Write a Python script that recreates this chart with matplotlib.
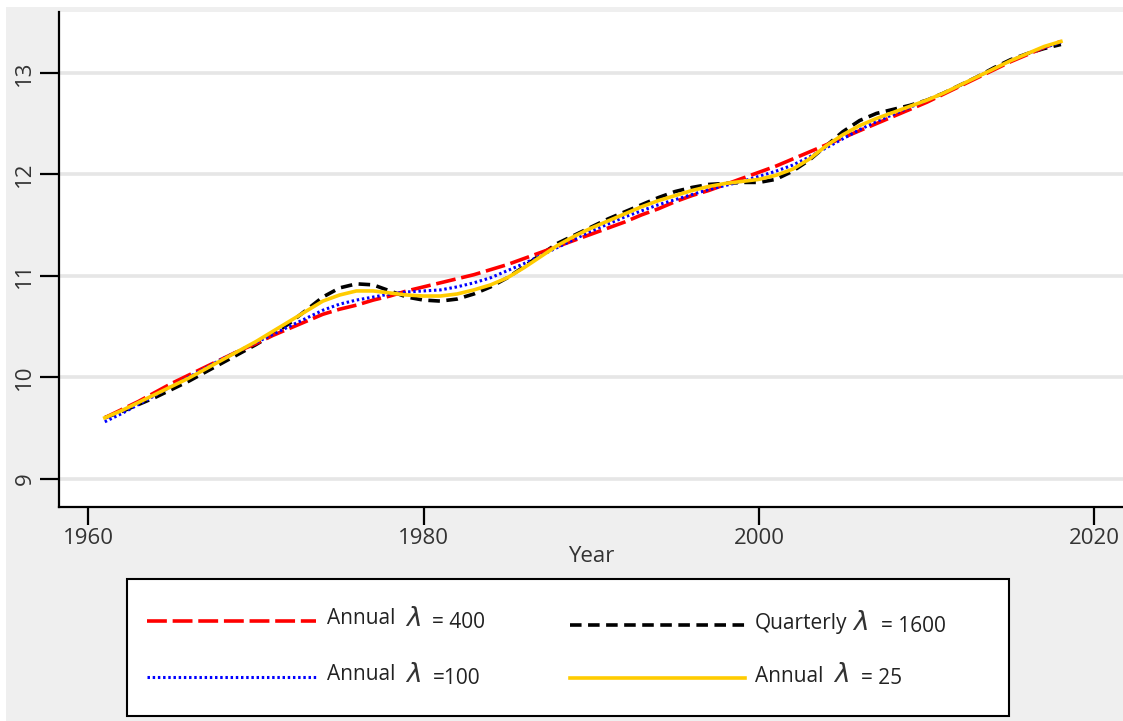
from matplotlib import pyplot as plt
from matplotlib.lines import Line2D
from matplotlib.patches import Rectangle
import numpy as np

plt.rcParams["font.family"] = ["Open Sans", "DejaVu Sans"]

years = np.arange(1961, 2019)

annual_400 = [9.60, 9.68, 9.76, 9.85, 9.94, 10.02, 10.10, 10.18, 10.26, 10.33,
              10.41, 10.48, 10.55, 10.62, 10.67, 10.71, 10.76, 10.80, 10.85, 10.89,
              10.93, 10.97, 11.01, 11.06, 11.11, 11.17, 11.23, 11.29, 11.35, 11.41,
              11.47, 11.53, 11.60, 11.66, 11.73, 11.79, 11.84, 11.90, 11.96, 12.02,
              12.08, 12.15, 12.22, 12.29, 12.36, 12.43, 12.50, 12.57, 12.64, 12.71,
              12.79, 12.87, 12.95, 13.03, 13.11, 13.18, 13.25, 13.31]

annual_100 = [9.56, 9.64, 9.73, 9.82, 9.91, 10.00, 10.09, 10.18, 10.26, 10.34,
              10.42, 10.50, 10.58, 10.66, 10.72, 10.76, 10.79, 10.82, 10.84, 10.85,
              10.86, 10.89, 10.93, 10.98, 11.05, 11.12, 11.20, 11.28, 11.36, 11.44,
              11.51, 11.58, 11.64, 11.70, 11.75, 11.80, 11.85, 11.89, 11.93, 11.98,
              12.03, 12.09, 12.17, 12.26, 12.35, 12.44, 12.52, 12.59, 12.66, 12.73,
              12.80, 12.88, 12.96, 13.04, 13.12, 13.19, 13.25, 13.30]

quarterly_1600 = [9.60, 9.66, 9.73, 9.80, 9.88, 9.96, 10.05, 10.14, 10.23, 10.32,
                  10.42, 10.53, 10.66, 10.79, 10.88, 10.92, 10.91, 10.85, 10.79, 10.76,
                  10.75, 10.77, 10.82, 10.89, 10.98, 11.09, 11.21, 11.32, 11.40, 11.48,
                  11.56, 11.63, 11.70, 11.77, 11.83, 11.87, 11.90, 11.91, 11.92, 11.92,
                  11.95, 12.03, 12.14, 12.28, 12.42, 12.53, 12.60, 12.64, 12.68, 12.73,
                  12.80, 12.88, 12.96, 13.05, 13.13, 13.19, 13.24, 13.28]

annual_25 = [9.60, 9.67, 9.75, 9.83, 9.91, 9.99, 10.08, 10.17, 10.26, 10.35,
             10.45, 10.55, 10.65, 10.75, 10.81, 10.85, 10.85, 10.83, 10.81, 10.80,
             10.80, 10.82, 10.86, 10.91, 10.98, 11.08, 11.19, 11.30, 11.39, 11.47,
             11.54, 11.61, 11.68, 11.74, 11.79, 11.84, 11.88, 11.91, 11.93, 11.95,
             11.99, 12.05, 12.15, 12.28, 12.39, 12.48, 12.55, 12.61, 12.67, 12.73,
             12.80, 12.88, 12.96, 13.04, 13.12, 13.19, 13.26, 13.31]

x_ticks = [1960, 1980, 2000, 2020]
y_ticks = [9, 10, 11, 12, 13]

W, H = 1123, 721


def px(x, y):
    return x / W, 1 - y / H


fig = plt.figure(figsize=(W / 100, H / 100), dpi=100)
fig.patch.set_facecolor("white")
fig.patches.append(Rectangle(px(6, H), (W - 6) / W, (H - 7) / H,
                             transform=fig.transFigure, facecolor="#efefef",
                             edgecolor="none", zorder=-10))

ax = fig.add_axes([59 / W, (H - 507) / H, (W - 59) / W, (507 - 12) / H])
ax.set_facecolor("white")

styles = {
    "red": dict(color="#ff0000", lw=2.6, dashes=(5.5, 1.6)),
    "black": dict(color="black", lw=2.6, dashes=(3.2, 1.8)),
    "blue": dict(color="#0000ff", lw=2.2, dashes=(0.8, 0.9)),
    "yellow": dict(color="#ffcc00", lw=2.6),
}

ax.plot(years, quarterly_1600, **styles["black"], zorder=3)
ax.plot(years, annual_400, **styles["red"], zorder=4)
ax.plot(years, annual_100, **styles["blue"], zorder=5)
ax.plot(years, annual_25, **styles["yellow"], zorder=6)

ax.set_xlim(1958.27, 2021.7)
ax.set_ylim(8.72, 13.6)
ax.set_xticks(x_ticks)
ax.set_yticks(y_ticks)
ax.grid(axis="y", color="#e6e6e6", lw=2.6)
ax.set_axisbelow(True)

for s in ["top", "right"]:
    ax.spines[s].set_visible(False)
for s in ["left", "bottom"]:
    ax.spines[s].set_linewidth(1.6)

ax.tick_params(axis="y", length=14, width=1.6, pad=3, labelsize=16,
               labelcolor="#333333", labelrotation=90)
ax.tick_params(axis="x", length=13, width=1.6, pad=2, labelsize=16,
               labelcolor="#333333")
for lab in ax.get_yticklabels():
    lab.set_va("center")

ax.set_xlabel("Year", fontsize=16, color="#333333", labelpad=-2)

# legend box drawn by hand
fig.patches.append(Rectangle(px(127, 716), (1009 - 127) / W, (716 - 579) / H,
                             transform=fig.transFigure, facecolor="white",
                             edgecolor="black", lw=1.5, zorder=5))

entries = [
    ("red", 147, 316, 621, 327, "Annual", 405, "= 400", 432),
    ("black", 570, 745, 625, 755, "Quarterly", 852, "= 1600", 881),
    ("blue", 147, 316, 677, 327, "Annual", 405, "=100", 433),
    ("yellow", 570, 745, 678, 755, "Annual", 833, "= 25", 861),
]
lfont = ["Liberation Sans Narrow", "Open Sans", "DejaVu Sans"]
for key, x0, x1, ly, tx, word, lx, tail, vx in entries:
    (fx0, fy), (fx1, _) = px(x0, ly), px(x1, ly)
    fig.lines.append(Line2D([fx0, fx1], [fy, fy], transform=fig.transFigure,
                            zorder=6, **styles[key]))
    ty = ly - 2
    fig.text(*px(tx, ty), word, fontsize=15, family=lfont, color="#222222",
             va="center", ha="left", zorder=7)
    fig.text(*px(lx, ty), r"$\lambda$", fontsize=19, color="#333333",
             va="center", ha="left", zorder=7)
    fig.text(*px(vx, ty + 3), tail, fontsize=15, family=lfont, color="#222222",
             va="center", ha="left", zorder=7)

plt.savefig("out.png", dpi=100)
